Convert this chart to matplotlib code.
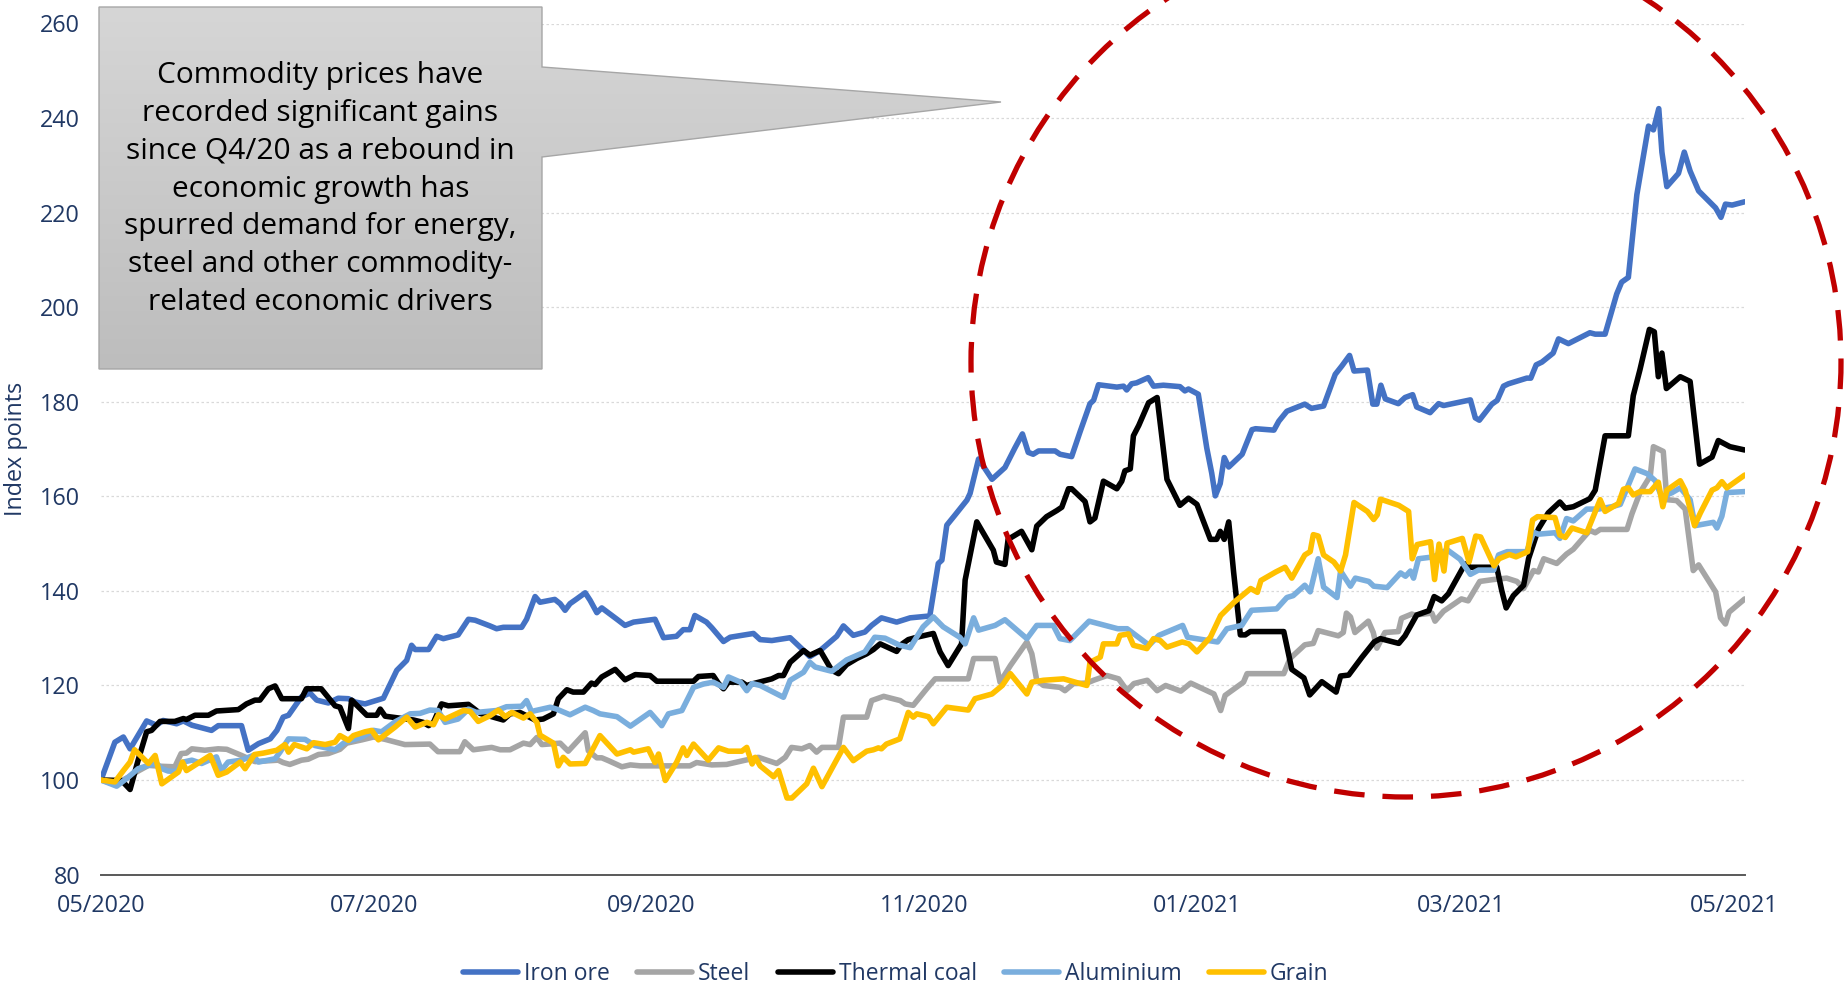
import numpy as np
import pandas as pd
import matplotlib
matplotlib.use('Agg')
import matplotlib.pyplot as plt
import matplotlib.dates as mdates
from matplotlib.patches import Polygon, Ellipse
from matplotlib.colors import LinearSegmentedColormap

plt.rcParams['font.family'] = ['Open Sans', 'DejaVu Sans']

START = pd.Timestamp('2020-05-01')

# (days after 01/05/2020, index points)
iron_ore = [(0, 100), (3.1, 108), (5, 109.1), (6.5, 106.6), (10.2, 112.5), (12.4, 111.6), (13.9, 112.6),
            (16.9, 111.9), (18.4, 112.5), (20.3, 111.6), (24.7, 110.5), (26.2, 111.5), (31.4, 111.5),
            (32.9, 106.3), (35.2, 107.7), (37.8, 108.7), (39.3, 110.5), (40.7, 113.3), (41.9, 113.7),
            (44.8, 117.6), (46.7, 118.4), (48.2, 116.9), (50.8, 116.3), (53, 117.3), (55.3, 117.2),
            (56.8, 116.5), (59, 116.1), (63.1, 117.3), (66.1, 123.2), (68.3, 125.3), (69.4, 128.5),
            (70.2, 127.6), (73.2, 127.6), (75, 130.4), (76.5, 129.9), (79.8, 130.7), (82.1, 134),
            (83.6, 133.8), (86.9, 132.6), (88.4, 132), (89.9, 132.3), (94, 132.3), (95.1, 134), (97, 138.8),
            (98.1, 137.6), (101.4, 138.2), (102.6, 137.3), (103.7, 135.9), (104.8, 137.3), (106.3, 138.3),
            (108.2, 139.6), (109.3, 138), (110.8, 135.4), (111.9, 136.4), (115.3, 134), (117.1, 132.7),
            (119, 133.4), (123.8, 134), (125.7, 130.1), (128.6, 130.4), (130.1, 131.8), (131.6, 131.8),
            (132.7, 134.8), (135.3, 133.4), (136.5, 132.2), (139.1, 129.3), (140.6, 130.2), (145.8, 131),
            (147.3, 129.7), (149.9, 129.5), (154, 130.1), (157, 127.4), (158.4, 126.1), (160.7, 127.4),
            (164.4, 130.4), (165.9, 132.6), (168.1, 130.6), (170.7, 131.3), (172.2, 132.7), (174.4, 134.3),
            (177.8, 133.4), (180.8, 134.3), (185.2, 134.7), (187.1, 145.8), (187.9, 146.5), (189, 153.9),
            (190.8, 156), (193.5, 159.2), (194.2, 160.6), (196.1, 167.9), (199.1, 163.6), (202, 166.1),
            (204.2, 170.2), (205.9, 173.2), (207.2, 169.3), (208.3, 168.9), (209.5, 169.6), (213.2, 169.6),
            (214.3, 168.9), (216.9, 168.4), (218.8, 173.7), (221, 179.6), (221.8, 180.3), (222.9, 183.6),
            (227, 183.1), (228.5, 183.3), (229.2, 182.5), (230.3, 183.8), (231.4, 184), (234, 185.1),
            (235.2, 183.3), (237.4, 183.5), (241.1, 183.2), (242.2, 182.3), (243, 182.7), (245.2, 181.6),
            (247.1, 170.2), (248.2, 164.9), (249, 160.1), (250.1, 162.7), (251, 168.2), (252, 166.2),
            (255, 168.9), (257.2, 174.1), (258, 174.3), (262.1, 174), (263.2, 175.9), (265, 178),
            (269, 179.5), (270.5, 178.6), (273.2, 179.1), (275.8, 185.8), (277.3, 187.6), (279, 189.8),
            (280, 186.5), (283, 186.7), (284.2, 179.5), (285.1, 179.5), (286, 183.5), (287, 180.6),
            (289.9, 179.6), (291.4, 180.9), (293.1, 181.5), (294, 178.9), (297, 177.7), (298.9, 179.6),
            (300, 179.2), (306, 180.4), (307.1, 176.6), (308, 176.1), (310.8, 179.5), (312, 180.3),
            (313.4, 183.3), (314.5, 183.8), (318.6, 185), (319.5, 185), (320.7, 187.8), (322, 188.4),
            (324.5, 190.3), (325.7, 193.3), (327.9, 192.3), (332.7, 194.6), (333.9, 194.3), (336.1, 194.3),
            (338.7, 202.8), (339.8, 205.3), (341.3, 206.3), (343.2, 223.8), (345.8, 238.3), (346.9, 237.5),
            (348.1, 242), (348.8, 232.8), (349.9, 225.5), (352.5, 228.3), (353.8, 232.8), (355.1, 228.8),
            (357, 224.6), (360.8, 221), (362, 219), (363, 221.8), (364.5, 221.6), (367.3, 222.3)]

steel = [(0, 100), (3.1, 99.1), (6.1, 100.6), (8.3, 101.9), (10.6, 103.1), (13.6, 102.9), (16.5, 102.8),
         (17.9, 105.6), (19.1, 105.7), (20.3, 106.6), (23.2, 106.3), (26.2, 106.6), (28.1, 106.5),
         (31.4, 105.2), (34.4, 103.9), (39.6, 104.2), (40.7, 103.7), (42.2, 103.3), (44.8, 104.2),
         (46.3, 104.4), (48.6, 105.4), (50.8, 105.6), (53.4, 106.5), (54.9, 107.8), (58.3, 108.5),
         (60.9, 109.1), (63.5, 108.6), (67.9, 107.5), (73.5, 107.6), (75.3, 106), (80.2, 106), (81.3, 108.1),
         (83.2, 106.4), (87.3, 106.9), (89.2, 106.4), (91.4, 106.4), (94.4, 107.8), (95.9, 107.5),
         (97.4, 109), (98.5, 107.5), (102.6, 107.8), (104.4, 106.1), (108.2, 110), (108.9, 106.2),
         (110.8, 104.7), (111.9, 104.7), (113.4, 104.1), (116.4, 102.8), (118.3, 103.2), (120.5, 103),
         (131.6, 103), (133.1, 103.7), (136.5, 103.2), (139.8, 103.3), (143.5, 104.1), (146.9, 104.8),
         (151, 103.5), (152.9, 104.8), (154.3, 106.9), (156.6, 106.6), (158.4, 107.3), (159.9, 105.9),
         (161.1, 106.9), (164.8, 106.9), (165.9, 113.3), (171.1, 113.3), (172.2, 116.8), (174.9, 117.7),
         (178.6, 116.8), (179.7, 116.1), (181.5, 115.8), (184.5, 119.3), (186.4, 121.4), (193.8, 121.4),
         (195, 125.7), (199.8, 125.7), (200.9, 120.7), (203.2, 124.2), (206.9, 129.2), (208, 126.7),
         (209.1, 121.1), (210.6, 120), (214.3, 119.6), (215.4, 118.9), (217.3, 120.4), (220.3, 120.5),
         (221.8, 121.1), (224.8, 122.1), (227.4, 121.4), (229.3, 118.9), (230.8, 120.4), (233.8, 121.1),
         (236, 118.9), (237.9, 120), (241.3, 118.8), (243.5, 120.5), (248.7, 118.2), (250.2, 114.7),
         (251.2, 117.9), (255.3, 120.7), (256.1, 122.5), (264.3, 122.5), (265.7, 125.7), (269, 128.6),
         (270.9, 128.9), (272, 131.6), (276.5, 130.5), (277.6, 131.2), (278.3, 135.3), (279.2, 134.5),
         (280.2, 131.2), (283.2, 133.6), (284.3, 131.2), (285.1, 127.9), (286.9, 131.2), (289.9, 131.4),
         (290.6, 134.2), (292.9, 135.1), (293.6, 134.9), (297.4, 135.3), (298.1, 133.6), (300, 135.7),
         (304, 138.3), (305.5, 137.9), (308.1, 142), (311.1, 142.4), (314.1, 142.7), (316.4, 142),
         (317.9, 140.5), (320.1, 144.3), (321.2, 144), (322.4, 146.8), (325.3, 145.8), (327.5, 147.8),
         (329, 148.8), (332.7, 152.8), (333.9, 152.3), (335, 153), (341, 153), (342.1, 156.3),
         (343.9, 160.8), (346.2, 164.3), (346.9, 170.5), (349.1, 169.5), (349.9, 159.3), (352.1, 159.1),
         (354, 157.3), (355.8, 144.3), (357, 145.5), (360.8, 139.8), (361.9, 134.3), (363, 133),
         (363.8, 135.5), (367.3, 138.3)]

thermal_coal = [(0, 100), (4.6, 99.9), (6.5, 98), (8.3, 104.2), (10.2, 110.2), (11.3, 110.5), (13.2, 112.4),
                (16.5, 112.4), (18.4, 113), (19.1, 112.8), (21, 113.7), (24, 113.7), (25.8, 114.6),
                (30.7, 114.9), (32.5, 116.1), (34.4, 116.9), (35.5, 116.9), (37.4, 119.3), (38.9, 119.9),
                (40.4, 117.2), (44.8, 117.2), (45.9, 119.3), (49.2, 119.3), (52.3, 115.7), (53.4, 115.4),
                (55.3, 110.9), (56, 116.9), (59.4, 113.7), (61.6, 113.7), (62.4, 115), (63.5, 113.5),
                (69.8, 112.7), (72, 112.2), (73.2, 111.5), (74.3, 112.2), (76.1, 116.1), (77.6, 115.7),
                (82.1, 116), (84.7, 114.1), (87.7, 113.3), (89.9, 112.7), (91.4, 114), (93.6, 114.3),
                (97, 112.7), (98.8, 112.9), (101.1, 114), (102.2, 117.2), (104.1, 119.1), (105.5, 118.6),
                (107.8, 118.6), (109.6, 120.5), (110.4, 120.2), (111.9, 121.8), (114.9, 123.4), (117.1, 121.2),
                (119.4, 122.3), (122.7, 122.1), (124.2, 120.9), (132.4, 120.9), (133.5, 121.9), (136.8, 122.1),
                (138, 120.4), (139.1, 119.3), (140.2, 120.7), (143.2, 120.7), (144.3, 120), (145.8, 120.4),
                (149.9, 121.4), (151.4, 122.1), (152.5, 122.1), (154, 124.9), (157, 127.4), (158.4, 126.4),
                (160.7, 127.4), (163.3, 123.2), (164.8, 122.5), (166.6, 124.4), (168.9, 125.7), (171.1, 126.7),
                (172.6, 127.6), (174.1, 128.8), (177.8, 127.2), (178.9, 128.7), (180.4, 129.7), (182.3, 130.2),
                (186, 131), (187.5, 127.1), (189.3, 124.2), (192.3, 128.8), (193.1, 142.3), (195.7, 154.6),
                (199.4, 148.6), (200.1, 146.1), (202, 145.6), (202.7, 150.9), (205.7, 152.6), (208, 148.7),
                (209.1, 153.7), (211.3, 155.7), (213.6, 157), (214.7, 157.7), (216.2, 161.6), (216.9, 161.6),
                (219.9, 158.9), (221, 154.6), (222.1, 155.4), (224, 163.2), (227, 161.6), (228.1, 163.2),
                (228.8, 165.4), (230, 165.8), (230.7, 172.8), (231.9, 175), (234.1, 179.8), (236, 180.9),
                (238.2, 163.6), (241.1, 158.1), (243, 159.6), (244.9, 158.3), (247.9, 150.9), (249.3, 150.9),
                (250.1, 152.6), (251, 150.9), (252, 154.6), (253.1, 143.9), (254.6, 130.7), (255.7, 130.7),
                (256.8, 131.4), (264.3, 131.4), (266.1, 123.4), (268.8, 121.6), (270.1, 118), (272.8, 120.8),
                (276, 118.6), (277, 122), (278.8, 122.2), (281.8, 126), (284.5, 129.2), (285.9, 129.9),
                (290, 128.9), (291.4, 130.5), (294, 134.9), (296.7, 135.8), (297.9, 138.8), (299.6, 137.9),
                (301.1, 139.4), (304.8, 145.7), (306, 145), (311.9, 145), (313, 140.1), (314, 136.4),
                (315.6, 139), (317.9, 141.2), (319, 146.8), (321.2, 153.1), (323.4, 156.5), (326, 158.8),
                (327.2, 157.5), (329, 157.8), (332.7, 159.5), (333.9, 161.3), (336.1, 172.8), (341.3, 172.8),
                (342.4, 181.3), (343.9, 186.8), (346, 195.3), (347.1, 194.8), (348, 185.3), (348.8, 190.3),
                (349.8, 182.8), (352.9, 185.3), (355.1, 184.3), (357.2, 166.8), (360, 168.3), (361.4, 171.8),
                (364, 170.5), (367.3, 169.8)]

aluminium = [(0, 100), (3.5, 98.7), (6.1, 100.6), (8.3, 102.4), (10.6, 103.1), (12.4, 103.5), (13.6, 102.4),
             (15, 101.9), (16.9, 101.8), (18.4, 103.8), (20.3, 104.2), (22.5, 103.5), (25.8, 104.9),
             (26.9, 102), (28.4, 103.8), (31.4, 104.2), (34, 105.2), (35.2, 103.8), (38.9, 104.5), (40, 105.9),
             (41.9, 108.7), (45.6, 108.6), (47.8, 107.3), (52.3, 106.4), (54.5, 108), (58.3, 109.1),
             (60.9, 110.5), (62.7, 110.2), (65.7, 112.3), (69.1, 114), (71.3, 114.1), (73.5, 114.8),
             (75.3, 114.7), (76.9, 112.2), (79.8, 112.9), (82.1, 115), (83.9, 114.3), (88.4, 114.7),
             (90.6, 115.5), (94, 115.6), (95.1, 116.8), (96.2, 114.5), (100.4, 115.4), (101.8, 115),
             (104.8, 113.8), (108.2, 115.4), (110, 114.7), (111.5, 114), (115.3, 113.4), (118.3, 111.4),
             (122.7, 114.3), (125.3, 111.5), (126.8, 114), (129.8, 114.7), (132.4, 119.6), (134.6, 120.3),
             (136.8, 120.7), (139.1, 119.6), (140.2, 121.8), (142.9, 120.7), (144.3, 118.9), (145.5, 120.4),
             (147.3, 120), (152.5, 117.5), (154, 121.1), (157, 122.8), (158.4, 124.9), (159.6, 123.9),
             (163.3, 123), (166.6, 125.4), (170.7, 127.1), (172.9, 130.2), (175.2, 130), (178.5, 128.5),
             (180.8, 128), (183.7, 132.4), (186, 134.5), (188.2, 132.4), (191.9, 130.2), (193.1, 128.8),
             (195, 134.3), (196.1, 131.7), (199.8, 132.7), (202, 133.9), (206.9, 129.9), (209.1, 132.7),
             (212.8, 132.7), (214.3, 129.9), (216.5, 129.5), (220.8, 133.6), (227.2, 132), (229.3, 132),
             (234.2, 128.5), (236.4, 130.6), (241.7, 132.7), (242.8, 130.2), (249.5, 129.2), (251.6, 132),
             (254.9, 132.7), (257.1, 135.9), (262.7, 136.2), (265, 138.6), (266.4, 139), (269, 141.2),
             (270.2, 139.8), (272, 146.8), (273.2, 140.8), (276.2, 138.6), (277, 144.2), (279.2, 141),
             (280.3, 142.7), (283.3, 142), (284.4, 141), (287.4, 140.7), (290.4, 143.8), (291.5, 143.1),
             (292.6, 144.2), (293.3, 142.7), (294.4, 146.8), (297.8, 147.2), (300.8, 148.7), (303.7, 146.7),
             (306, 143.5), (307.8, 144.4), (311.2, 144.4), (312.3, 147.6), (314.2, 148.3), (318.6, 148.3),
             (320.1, 152.4), (321.2, 152), (324.9, 152.3), (326, 151.1), (327.5, 155.3), (329, 154.8),
             (332, 157.3), (334.6, 157.3), (337.6, 157.8), (339.5, 158.3), (342.8, 165.8), (345.5, 164.8),
             (347.3, 163.3), (348.8, 159.8), (351.1, 160.8), (352.9, 161.8), (355.1, 159.3), (356.2, 153.8),
             (360.3, 154.5), (361.1, 153.3), (362.2, 155.8), (363.3, 160.8), (367.3, 161)]

grain = [(0, 100), (3.1, 99.6), (5, 102), (6.5, 103.8), (7.5, 106.4), (10.6, 103.5), (12.1, 105.2),
         (13.6, 99.2), (17.3, 101.7), (18.2, 103.8), (19.1, 102), (24.4, 105.2), (26.2, 101), (28.1, 101.7),
         (31.1, 103.8), (32.2, 102.4), (34.3, 105.4), (36.3, 105.7), (39.3, 106.3), (41.1, 107.5),
         (41.9, 105.9), (43.2, 107.5), (46, 106.6), (47.5, 107.9), (50.1, 107.5), (52.3, 108), (53.4, 109.4),
         (55.3, 108.4), (56.4, 109.4), (59, 110.2), (60.5, 110.5), (62, 108.5), (65.7, 111.2), (68.3, 113.3),
         (70.2, 111.2), (72.8, 112.2), (74.3, 111.7), (75.4, 113.8), (76.9, 112.9), (81, 114.7),
         (82.5, 114.5), (84.3, 112.4), (86.9, 113.6), (88.8, 114.8), (90.3, 113.4), (91.8, 114.3),
         (94.4, 113.1), (95.9, 114), (97.4, 112.2), (98.1, 109.5), (101.1, 107.8), (102.2, 103),
         (103.3, 104.8), (104.8, 103.4), (108.2, 103.5), (111.5, 109.4), (115.3, 105.5), (118.3, 106.4),
         (119, 105.9), (122.3, 106.6), (123.8, 103.7), (124.6, 105.5), (126.1, 99.9), (128.6, 103.7),
         (130.1, 106.8), (130.9, 105.2), (132.4, 107.6), (135.7, 104.2), (138, 106.8), (140.2, 106.1),
         (143.2, 106.1), (144.3, 106.9), (145.5, 103.4), (146.2, 104.8), (147.3, 103), (150.3, 100.7),
         (151.4, 102), (153.3, 96.2), (154.4, 96.2), (157.7, 99.2), (159.2, 102.5), (161.1, 98.6),
         (165.9, 106.9), (168.1, 104.1), (171.1, 106.1), (172.6, 106.4), (173.7, 106.8), (174.4, 106.6),
         (175.5, 107.6), (178.5, 108.7), (180.4, 114.3), (181.5, 113.3), (182.3, 114), (184.9, 113.4),
         (186, 111.9), (189, 115.4), (193.8, 114.8), (195.3, 117.2), (199.1, 118.2), (201.4, 120),
         (203.2, 122.5), (206.9, 118.2), (208, 120.7), (210.6, 121.1), (215.1, 121.4), (220.3, 120),
         (221, 124.9), (223.3, 126), (224, 128.8), (227, 128.8), (227.7, 130.6), (229.6, 130.9),
         (230.7, 128.5), (233.7, 127.8), (235.2, 129.9), (236.7, 129.5), (238.2, 128.1), (241.6, 129.2),
         (243.1, 128.8), (244.9, 127.1), (247.9, 130.2), (250.2, 134.8), (253.2, 137.6), (256.9, 140.5),
         (258.4, 139.7), (259.2, 142.2), (262.5, 144), (264.6, 145), (266.1, 142.7), (269, 147.6),
         (270.2, 148.3), (270.9, 151.9), (272, 151.6), (273.2, 147.6), (275.5, 146.1), (277, 144.2),
         (278.1, 147.6), (280, 158.7), (283, 156.8), (284.4, 155.1), (285.2, 156.1), (285.9, 159.4),
         (290, 158.1), (291.5, 157.2), (292.2, 156.8), (293, 146.8), (294.1, 149.8), (297.1, 150.4),
         (298, 142.4), (299, 149.9), (300.1, 144.2), (300.8, 150.1), (304.2, 151.1), (305.7, 146.1),
         (307.2, 151.6), (308.3, 151.4), (311.3, 145.3), (312.4, 146.8), (314.7, 147.7), (316.2, 147.2),
         (318.8, 148.3), (319.9, 155), (321, 155.7), (324.9, 155.5), (326, 151.8), (327.2, 151.3),
         (328.7, 153.3), (332, 152.3), (335, 159.3), (336.1, 156.8), (339.1, 158.5), (340.2, 161.5),
         (341.3, 161.8), (342.4, 160.3), (343.9, 161), (346.2, 161), (348, 163), (349, 157.8),
         (349.9, 161.3), (352.9, 163.3), (354, 161.3), (356.1, 153.8), (357.4, 156.5), (360, 161.3),
         (361.1, 161.8), (362.2, 163.1), (363.3, 161.8), (367.3, 164.5)]

series = [('Iron ore', iron_ore, '#4472C4'),
          ('Steel', steel, '#A5A5A5'),
          ('Thermal coal', thermal_coal, '#000000'),
          ('Aluminium', aluminium, '#7AAEDD'),
          ('Grain', grain, '#FFC000')]

NAVY = '#203864'
W, H = 1845, 990

fig = plt.figure(figsize=(W / 100, H / 100), dpi=100)
ax = fig.add_axes([101 / W, 1 - 874.6 / H, 1643.7 / W, 851.1 / H])

for name, pts, col in series:
    days, vals = zip(*pts)
    dates = START + pd.to_timedelta(np.array(days), unit='D')
    ax.plot(dates, vals, color=col, lw=4.0, label=name,
            solid_joinstyle='round', solid_capstyle='round')

last_day = iron_ore[-1][0]
ax.set_xlim(START, START + pd.Timedelta(days=last_day))
ax.set_ylim(80, 260)
ax.set_yticks(range(80, 261, 20))
ax.xaxis.set_major_locator(mdates.MonthLocator(bymonth=[1, 3, 5, 7, 9, 11]))
ax.xaxis.set_major_formatter(mdates.DateFormatter('%m/%Y'))

ax.grid(axis='y', color='#D9D9D9', lw=0.9, ls=(0, (2, 2)))
ax.set_axisbelow(True)
for s in ['left', 'right', 'top']:
    ax.spines[s].set_visible(False)
ax.spines['bottom'].set_color('#595959')
ax.spines['bottom'].set_linewidth(1.4)
ax.tick_params(axis='both', length=0, labelsize=16.8, labelcolor=NAVY)
ax.tick_params(axis='y', pad=15)
ax.tick_params(axis='x', pad=14)

fig.text(16.5 / W, 1 - 449 / H, 'Index points', rotation=90, ha='center', va='center',
         fontsize=16.8, color=NAVY)

leg = fig.legend(loc='center', bbox_to_anchor=(896 / W, 1 - 974 / H), ncol=5, frameon=False,
                 handlelength=2.4, handletextpad=0.25, columnspacing=1.2, fontsize=16.5)
for t in leg.get_texts():
    t.set_color(NAVY)

# callout box and dashed circle drawn in pixel space over the chart
ov = fig.add_axes([0, 0, 1, 1], zorder=5)
pts = [(99, 7), (542, 7), (542, 67), (1001, 102), (542, 157), (542, 369), (99, 369)]
box = Polygon(pts, closed=True, facecolor='none', edgecolor='#A6A6A6', lw=1.0, zorder=3)
ov.add_patch(box)
grad = np.linspace(0, 1, 256).reshape(-1, 1)
cmap = LinearSegmentedColormap.from_list('callout', ['#D6D6D6', '#BDBDBD'])
im = ov.imshow(grad, cmap=cmap, extent=(99, 1001, 369, 7), aspect='auto', zorder=2)
im.set_clip_path(box)
ov.text(320.5, 189, 'Commodity prices have\nrecorded significant gains\nsince Q4/20 as a rebound in\n'
        'economic growth has\nspurred demand for energy,\nsteel and other commodity-\n'
        'related economic drivers', ha='center', va='center', fontsize=21.5, linespacing=1.4,
        color='black', zorder=4)

ov.add_patch(Ellipse((1406, 362), 870, 870, fill=False, edgecolor='#C00000', lw=3.8,
                     linestyle=(0, (5.8, 3.4)), zorder=5))
ov.set_xlim(0, W)
ov.set_ylim(H, 0)
ov.axis('off')

fig.savefig('out.png', dpi=100)
